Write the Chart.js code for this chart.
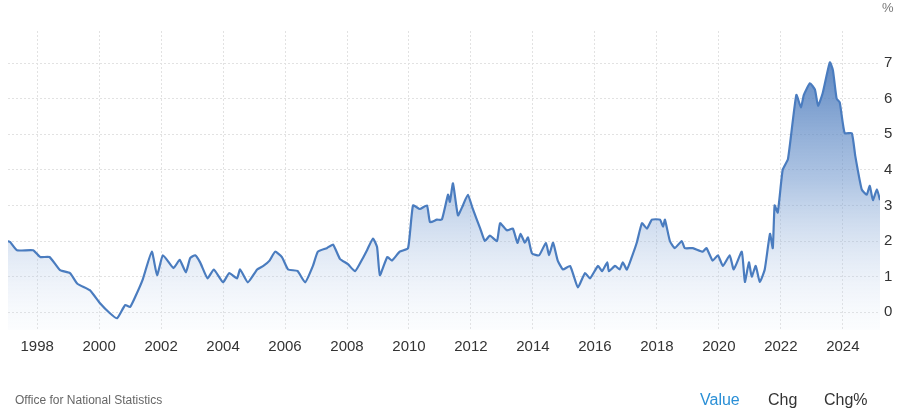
<!DOCTYPE html>
<html><head><meta charset="utf-8">
<script src="https://cdn.jsdelivr.net/npm/chart.js@4"></script>
<style>
html,body{margin:0;padding:0;background:#fff;font-family:"Liberation Sans",Arial,sans-serif}
#wrap{position:relative;width:900px;height:419px}
.t{position:absolute;font-size:13px;color:#555}
</style></head><body>
<div id="wrap"><canvas id="c" width="900" height="419"></canvas>
<div class="t" style="left:882px;top:0px;color:#777">%</div>
<div class="t" style="left:15px;top:393px;font-size:12px;color:#666">Office for National Statistics</div>
<div class="t" style="left:700px;top:391px;font-size:16px;color:#2a8fd6">Value</div>
<div class="t" style="left:768px;top:391px;font-size:16px;color:#333">Chg</div>
<div class="t" style="left:824px;top:391px;font-size:16px;color:#333">Chg%</div>
</div>
<script>
const years = [1997.06,1997.13,1997.35,1997.87,1998.1,1998.4,1998.74,1999.06,1999.3,1999.7,2000.03,2000.35,2000.58,2000.84,2001.0,2001.16,2001.4,2001.7,2001.87,2002.06,2002.4,2002.6,2002.8,2002.94,2003.1,2003.26,2003.5,2003.7,2004.0,2004.2,2004.45,2004.55,2004.8,2005.1,2005.3,2005.5,2005.68,2005.9,2006.1,2006.4,2006.65,2006.9,2007.06,2007.35,2007.55,2007.77,2008.03,2008.26,2008.5,2008.65,2008.84,2008.97,2009.06,2009.3,2009.45,2009.7,2009.97,2010.13,2010.35,2010.58,2010.68,2010.9,2011.06,2011.26,2011.32,2011.42,2011.58,2011.74,2011.9,2012.06,2012.3,2012.45,2012.61,2012.84,2012.94,2013.16,2013.35,2013.5,2013.6,2013.74,2013.84,2013.97,2014.2,2014.42,2014.52,2014.65,2014.8,2014.97,2015.2,2015.45,2015.68,2015.84,2016.1,2016.23,2016.4,2016.45,2016.65,2016.8,2016.9,2017.03,2017.19,2017.35,2017.52,2017.68,2017.84,2018.1,2018.2,2018.26,2018.42,2018.58,2018.8,2018.9,2019.16,2019.48,2019.6,2019.8,2019.97,2020.13,2020.35,2020.48,2020.74,2020.84,2020.97,2021.06,2021.19,2021.32,2021.48,2021.65,2021.74,2021.8,2021.9,2022.06,2022.23,2022.5,2022.65,2022.74,2022.94,2023.1,2023.2,2023.35,2023.58,2023.68,2023.8,2023.9,2024.06,2024.29,2024.4,2024.61,2024.77,2024.87,2024.97,2025.1,2025.2];
const values = [2.0,1.97,1.74,1.74,1.55,1.55,1.18,1.1,0.8,0.62,0.25,-0.03,-0.17,0.2,0.15,0.42,0.9,1.7,1.04,1.6,1.24,1.47,1.12,1.52,1.6,1.4,0.95,1.2,0.84,1.1,0.95,1.2,0.84,1.2,1.3,1.45,1.7,1.55,1.2,1.16,0.84,1.3,1.7,1.8,1.9,1.5,1.35,1.15,1.5,1.75,2.07,1.83,1.04,1.55,1.45,1.7,1.8,3.0,2.9,3.0,2.53,2.6,2.6,3.3,3.1,3.62,2.72,3.0,3.3,2.9,2.35,2.0,2.15,2.0,2.5,2.3,2.35,1.95,2.2,1.95,2.1,1.65,1.6,1.95,1.6,1.95,1.45,1.2,1.3,0.7,1.1,0.95,1.3,1.15,1.4,1.15,1.3,1.2,1.4,1.2,1.55,1.95,2.5,2.35,2.6,2.6,2.4,2.6,2.0,1.8,2.0,1.8,1.8,1.7,1.8,1.45,1.6,1.3,1.6,1.2,1.7,0.85,1.4,1.0,1.3,0.85,1.2,2.2,1.8,3.0,2.8,4.0,4.3,6.1,5.75,6.1,6.43,6.25,5.8,6.15,7.02,6.8,6.0,5.9,5.03,5.03,4.4,3.45,3.3,3.55,3.15,3.45,3.15];
const xTicks = [1998,2000,2002,2004,2006,2008,2010,2012,2014,2016,2018,2020,2022,2024];
const yTicks = [0,1,2,3,4,5,6,7];

const ctx = document.getElementById('c').getContext('2d');
new Chart(ctx,{
  type:'line',
  data:{datasets:[{
    data: years.map((y,i)=>({x:y,y:values[i]})),
    borderColor:'#4a7cbf',borderWidth:2.2,pointRadius:0,tension:0.15,
    fill:'start',
    backgroundColor:(c)=>{const a=c.chart.chartArea; if(!a) return 'rgba(74,124,191,0.3)';
      const g=c.chart.ctx.createLinearGradient(0,a.top,0,a.bottom);
      g.addColorStop(0,'rgba(60,110,180,0.95)');g.addColorStop(0.5,'rgba(110,150,205,0.55)');g.addColorStop(1,'rgba(220,230,245,0.1)');return g;}
  }]},
  options:{
    responsive:false,animation:false,
    layout:{padding:{top:31,left:8,right:0,bottom:49}},
    plugins:{legend:{display:false},tooltip:{enabled:false}},
    scales:{
      x:{type:'linear',min:1997.06,max:2025.2,
        afterBuildTicks:(s)=>{s.ticks=xTicks.map(v=>({value:v}));},
        afterFit:(s)=>{s.height=40;},
        ticks:{color:'#333',font:{size:15,family:'Liberation Sans'},callback:v=>String(v),maxRotation:0,padding:8},
        grid:{color:'#e2e2e2',drawTicks:false,tickBorderDash:[2,2]},border:{display:false,dash:[2,2]}},
      y:{position:'right',min:-0.5,max:7.9,
        afterBuildTicks:(s)=>{s.ticks=yTicks.map(v=>({value:v}));},
        afterFit:(s)=>{s.width=20;},
        ticks:{color:'#333',font:{size:15,family:'Liberation Sans'},padding:4},
        grid:{color:'#e2e2e2',drawTicks:false},border:{display:false,dash:[2,2]}}
    }
  }
});
</script></body></html>
